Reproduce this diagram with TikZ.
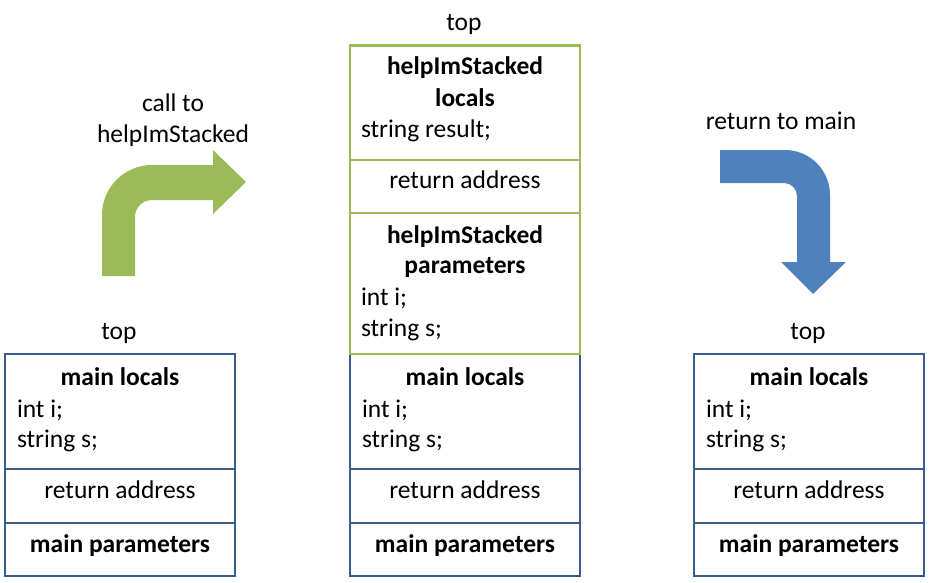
\documentclass[tikz,border=0pt]{standalone}
\usepackage{fontspec}
\setmainfont{Carlito}
\usetikzlibrary{calc}
\definecolor{frameblue}{HTML}{385D8A}
\definecolor{framegreen}{HTML}{9BBB59}
\definecolor{arrowblue}{HTML}{4F81BD}
\definecolor{arrowgreen}{HTML}{9BBB59}

\begin{document}
\begin{tikzpicture}[x=1pt,y=-1pt,
  every node/.style={font=\fontsize{25.5}{31}\selectfont,inner sep=0pt,outer sep=0pt,anchor=base},
  cell/.style={draw=#1,line width=2.8pt,anchor=north west,minimum width=230pt}]
  \useasboundingbox (0,0) rectangle (930,582);
  \foreach \s/\x in {l/5,m/350,r/694} {
    \node[cell=frameblue,minimum height=115pt] (\s loc) at (\x,354) {};
    \node[cell=frameblue,minimum height=54pt] (\s ret) at (\x,469) {};
    \node[cell=frameblue,minimum height=53pt] (\s par) at (\x,523) {};
    \node (\s loctitle) at ($(\s loc.north)+(0,31)$) {\textbf{main locals}};
    \node[anchor=base west] (\s loci) at ($(\s loc.north west)+(12,63)$) {int i;};
    \node[anchor=base west] (\s locs) at ($(\s loc.north west)+(12,93)$) {string s;};
    \node (\s rettext) at ($(\s ret.north)+(0,29)$) {return address};
    \node (\s partext) at ($(\s par.north)+(0,29)$) {\textbf{main parameters}};
  }
  \node[cell=framegreen,minimum height=114.5pt] (hloc) at (350,45.5) {};
  \node[cell=framegreen,minimum height=53pt] (hret) at (350,160) {};
  \node[cell=framegreen,minimum height=141pt] (hpar) at (350,213) {};
  \node (hloctitle) at ($(hloc.north)+(0,28.5)$) {\textbf{helpImStacked}};
  \node (hloctitleb) at ($(hloc.north)+(0,60.5)$) {\textbf{locals}};
  \node[anchor=base west] (hlocres) at ($(hloc.north west)+(11,91.5)$) {string result;};
  \node (hrettext) at ($(hret.north)+(0,28)$) {return address};
  \node (hpartitle) at ($(hpar.north)+(0,30)$) {\textbf{helpImStacked}};
  \node (hpartitleb) at ($(hpar.north)+(0,60)$) {\textbf{parameters}};
  \node[anchor=base west] (hpari) at ($(hpar.north west)+(11,92)$) {int i;};
  \node[anchor=base west] (hpars) at ($(hpar.north west)+(11,123)$) {string s;};
  \node (ltop) at (119,339) {top};
  \node (mtop) at (464,30) {top};
  \node (rtop) at (808,339) {top};
  \node (calltext) at (173,111) {call to};
  \node (calltextb) at (173,142) {helpImStacked};
  \node (rettext) at (781,129) {return to main};
  \fill[arrowgreen] (102,276) -- (102,215) arc[start angle=180,end angle=90,radius=50pt]
    -- (213,165) -- (213,150) -- (246,182) -- (213,214) -- (213,200) -- (152,200)
    arc[start angle=90,end angle=180,radius=17pt] -- (135,276) -- cycle;
  \fill[arrowblue] (720,150) -- (785,150) arc[start angle=90,end angle=0,radius=45pt]
    -- (830,262) -- (846,262) -- (813,294) -- (781,262) -- (797,262) -- (797,196)
    arc[start angle=0,end angle=90,radius=13pt] -- (720,183) -- cycle;
\end{tikzpicture}
\end{document}
